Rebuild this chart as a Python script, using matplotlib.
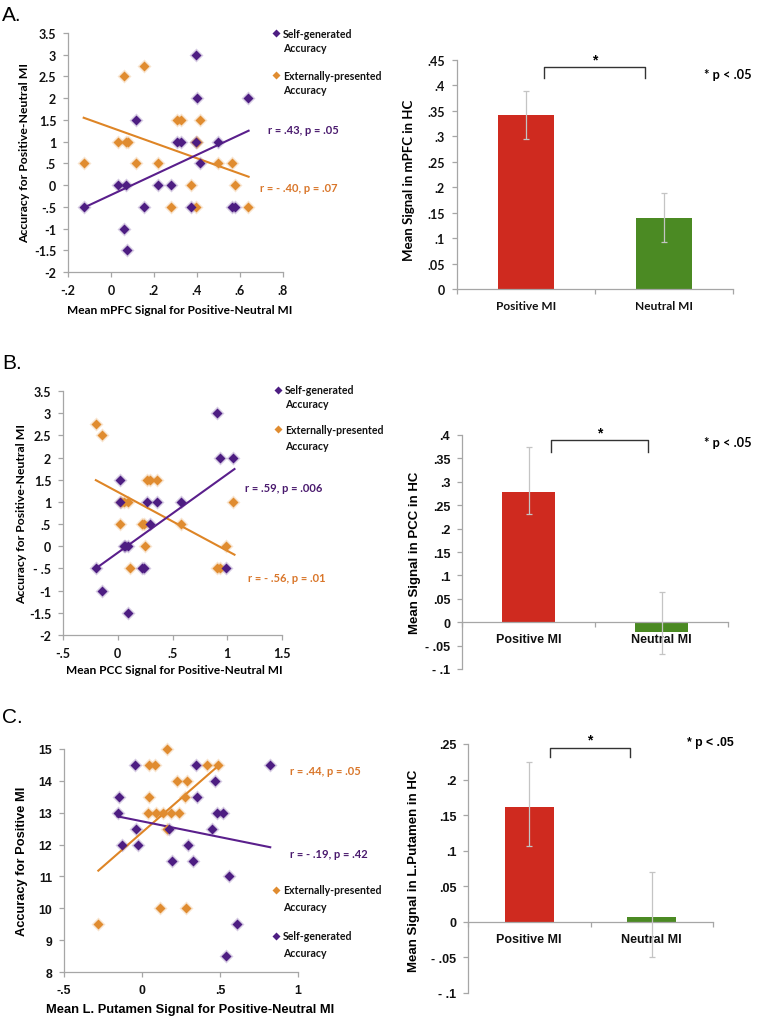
import matplotlib
matplotlib.use("Agg")
import matplotlib.pyplot as plt
from matplotlib.lines import Line2D
import numpy as np

# ---------------- DATA ----------------
# Panel A scatter (mPFC)
A_self_x = [-0.127, 0.034, 0.07, 0.061, 0.075, 0.117, 0.152, 0.22, 0.277, 0.308, 0.325, 0.37, 0.394, 0.398, 0.394, 0.414, 0.497, 0.563, 0.578, 0.639]
A_self_y = [-0.5, 0, 0, -1, -1.5, 1.5, -0.5, 0, 0, 1, 1, -0.5, 3, 2, 1, 0.5, 1, -0.5, -0.5, 2]
A_ext_x = [-0.127, 0.061, 0.155, 0.034, 0.07, 0.077, 0.117, 0.22, 0.277, 0.308, 0.325, 0.37, 0.394, 0.40, 0.394, 0.414, 0.497, 0.563, 0.578, 0.639]
A_ext_y = [0.5, 2.5, 2.75, 1, 1, 1, 0.5, 0.5, -0.5, 1.5, 1.5, 0, 1, 1, -0.5, 1.5, 0.5, 0.5, 0, -0.5]
A_self_fit = (2.31, -0.227)   # slope, intercept
A_ext_fit = (-1.77, 1.325)
A_fit_range = (-0.127, 0.64)

# Panel B scatter (PCC)
B_self_x = [-0.20, -0.14, 0.024, 0.024, 0.055, 0.07, 0.095, 0.095, 0.217, 0.24, 0.296, 0.27, 0.36, 0.574, 0.91, 0.934, 1.057, 0.99]
B_self_y = [-0.5, -1, 1.5, 1, 0, 0, 0, -1.5, -0.5, -0.5, 0.5, 1, 1, 1, 3, 2, 2, -0.5]
B_ext_x = [-0.20, -0.14, 0.024, 0.03, 0.06, 0.095, 0.11, 0.217, 0.24, 0.247, 0.27, 0.29, 0.36, 0.574, 0.91, 0.934, 0.99, 1.057]
B_ext_y = [2.75, 2.5, 0.5, 1, 1, 1, -0.5, 0.5, 0.5, 0, 1.5, 1.5, 1.5, 0.5, -0.5, -0.5, 0, 1]
B_self_fit = (1.77, -0.146)
B_ext_fit = (-1.327, 1.225)
B_fit_range = (-0.2, 1.066)

# Panel C scatter (L. Putamen)
C_ext_x = [0.162, 0.044, 0.085, 0.415, 0.49, 0.226, 0.287, 0.047, 0.276, 0.036, 0.089, 0.136, 0.184, 0.237, 0.162, -0.28, 0.115, 0.28]
C_ext_y = [15, 14.5, 14.5, 14.5, 14.5, 14, 14, 13.5, 13.5, 13, 13, 13, 13, 13, 12.5, 9.5, 10, 10]
C_self_x = [-0.046, 0.344, 0.822, 0.469, -0.148, 0.351, -0.157, 0.479, 0.518, -0.039, 0.175, 0.447, -0.127, -0.024, 0.297, 0.19, 0.325, 0.555, 0.612, 0.537]
C_self_y = [14.5, 14.5, 14.5, 14, 13.5, 13.5, 13, 13, 13, 12.5, 12.5, 12.5, 12, 12, 12, 11.5, 11.5, 11, 9.5, 8.5]
C_self_fit = (-0.99, 12.73)
C_self_range = (-0.157, 0.822)
C_ext_fit = (4.28, 12.38)
C_ext_range = (-0.28, 0.48)

# Bar charts
bar_categories = ["Positive MI", "Neutral MI"]
A_bar = [0.342, 0.139]
A_err_lo = [0.048, 0.047]
A_err_hi = [0.047, 0.050]
B_bar = [0.279, -0.021]
B_err_lo = [0.047, 0.048]
B_err_hi = [0.095, 0.085]
C_bar = [0.162, 0.007]
C_err_lo = [0.055, 0.056]
C_err_hi = [0.062, 0.063]

# ---------------- STYLE ----------------
PURPLE = "#4d1d82"
PURPLE_LINE = "#5a1f8c"
PURPLE_TXT = "#4a1a6e"
ORANGE = "#e08c30"
ORANGE_LINE = "#de8526"
ORANGE_TXT = "#d9762a"
RED = "#cf2a1f"
GREEN = "#4b8a23"
AXGRAY = "#a6a6a6"
CAL = ["Lato", "DejaVu Sans"]
ARI = ["Liberation Sans", "DejaVu Sans"]

W, H = 759, 1020
fig = plt.figure(figsize=(W / 100, H / 100), dpi=100)


def px_axes(x0, y0, x1, y1):
    return fig.add_axes([x0 / W, 1 - y1 / H, (x1 - x0) / W, (y1 - y0) / H])


def fx(x):
    return x / W


def fy(y):
    return 1 - y / H


def style_axes(ax, fam, tsize):
    for s in ["top", "right"]:
        ax.spines[s].set_visible(False)
    for s in ["left", "bottom"]:
        ax.spines[s].set_color(AXGRAY)
        ax.spines[s].set_linewidth(0.9)
    ax.tick_params(direction="out", length=3.5, width=0.9, color=AXGRAY,
                   labelsize=tsize, pad=5)
    for lab in ax.get_xticklabels() + ax.get_yticklabels():
        lab.set_family(fam)
        lab.set_fontweight("bold")
        lab.set_color("#111111")


def fmt(v):
    if abs(v) < 1e-9:
        return "0"
    s = ("%g" % v)
    s = s.replace("0.", ".")
    return s


def scatter(ax, xs, ys, color):
    ax.plot(xs, ys, "D", ms=7.0, color=color, alpha=0.22, mec="none", zorder=2, clip_on=False)
    ax.plot(xs, ys, "D", ms=5.0, color=color, mec="none", zorder=3, clip_on=False)


def fitline(ax, fit, rng, color):
    xx = np.array(rng)
    ax.plot(xx, fit[0] * xx + fit[1], color=color, lw=1.5, zorder=2.5)


def legend_entry(xm, ym, color, lines, fam, size, dy):
    fig.add_artist(Line2D([fx(xm)], [fy(ym)], marker="D", ms=4.2, color=color,
                          mec="none", transform=fig.transFigure))
    for i, t in enumerate(lines):
        fig.text(fx(xm + 7), fy(ym + i * dy), t, family=fam, fontweight="bold",
                 fontsize=size, va="center", ha="left", color="#111111")


LEG = 7.6

# ---------------- SCATTER A ----------------
axA = px_axes(68, 34, 283, 273)
scatter(axA, A_ext_x, A_ext_y, ORANGE)
scatter(axA, A_self_x, A_self_y, PURPLE)
fitline(axA, A_ext_fit, A_fit_range, ORANGE_LINE)
fitline(axA, A_self_fit, A_fit_range, PURPLE_LINE)
axA.set_xlim(-0.2, 0.8)
axA.set_ylim(-2, 3.5)
xt = np.arange(-0.2, 0.81, 0.2)
axA.set_xticks(xt, [fmt(round(v, 2)) for v in xt])
yt = np.arange(-2, 3.51, 0.5)
axA.set_yticks(yt, [fmt(v) for v in yt])
style_axes(axA, CAL, 9)
axA.set_xlabel("Mean mPFC Signal for Positive-Neutral MI", family=CAL, fontweight="bold", fontsize=8.6)
axA.set_ylabel("Accuracy for Positive-Neutral MI", family=CAL, fontweight="bold", fontsize=8.8)
axA.xaxis.set_label_coords(0.52, -0.155)
axA.xaxis.label.set_va("center")
axA.yaxis.set_label_coords(-0.2, 0.5)
axA.yaxis.label.set_va("center")
legend_entry(276, 34, PURPLE, ["Self-generated", "Accuracy"], CAL, LEG, 14)
legend_entry(276, 76, ORANGE, ["Externally-presented", "Accuracy"], CAL, LEG, 14)
fig.text(fx(268), fy(130), "r = .43, p = .05", family=CAL, fontweight="bold", fontsize=8,
         color=PURPLE_TXT, va="center")
fig.text(fx(260), fy(188), "r = - .40, p = .07", family=CAL, fontweight="bold", fontsize=8,
         color=ORANGE_TXT, va="center")

# ---------------- SCATTER B ----------------
axB = px_axes(63, 392, 282, 636)
scatter(axB, B_ext_x, B_ext_y, ORANGE)
scatter(axB, B_self_x, B_self_y, PURPLE)
fitline(axB, B_ext_fit, B_fit_range, ORANGE_LINE)
fitline(axB, B_self_fit, B_fit_range, PURPLE_LINE)
axB.set_xlim(-0.5, 1.5)
axB.set_ylim(-2, 3.5)
xt = np.arange(-0.5, 1.51, 0.5)
axB.set_xticks(xt, [fmt(v) for v in xt])
axB.set_yticks(yt, [fmt(v).replace("-.", "- .") for v in yt])
style_axes(axB, CAL, 9)
axB.set_xlabel("Mean PCC Signal for Positive-Neutral MI", family=CAL, fontweight="bold", fontsize=8.6)
axB.set_ylabel("Accuracy for Positive-Neutral MI", family=CAL, fontweight="bold", fontsize=8.8)
axB.xaxis.set_label_coords(0.51, -0.14)
axB.xaxis.label.set_va("center")
axB.yaxis.set_label_coords(-0.187, 0.5)
axB.yaxis.label.set_va("center")
legend_entry(278, 391, PURPLE, ["Self-generated", "Accuracy"], CAL, LEG, 14)
legend_entry(278, 430, ORANGE, ["Externally-presented", "Accuracy"], CAL, LEG, 16)
fig.text(fx(245), fy(488), "r = .59, p = .006", family=CAL, fontweight="bold", fontsize=8,
         color=PURPLE_TXT, va="center")
fig.text(fx(248), fy(578), "r = - .56, p = .01", family=CAL, fontweight="bold", fontsize=8,
         color=ORANGE_TXT, va="center")

# ---------------- SCATTER C ----------------
axC = px_axes(64, 750, 298, 973)
scatter(axC, C_ext_x, C_ext_y, ORANGE)
scatter(axC, C_self_x, C_self_y, PURPLE)
fitline(axC, C_ext_fit, C_ext_range, ORANGE_LINE)
fitline(axC, C_self_fit, C_self_range, PURPLE_LINE)
axC.set_xlim(-0.5, 1.0)
axC.set_ylim(8, 15)
xt = np.arange(-0.5, 1.01, 0.5)
axC.set_xticks(xt, [fmt(v) for v in xt])
axC.set_yticks(np.arange(8, 15.1, 1), [str(int(v)) for v in np.arange(8, 15.1, 1)])
style_axes(axC, ARI, 8.8)
axC.set_xlabel("Mean L. Putamen Signal for Positive-Neutral MI", family=ARI, fontweight="bold", fontsize=9.3)
axC.set_ylabel("Accuracy for Positive MI", family=ARI, fontweight="bold", fontsize=9.3)
axC.xaxis.set_label_coords(0.54, -0.166)
axC.xaxis.label.set_va("center")
axC.yaxis.set_label_coords(-0.18, 0.5)
axC.yaxis.label.set_va("center")
legend_entry(276, 891, ORANGE, ["Externally-presented", "Accuracy"], CAL, LEG, 17)
legend_entry(276, 937, PURPLE, ["Self-generated", "Accuracy"], CAL, LEG, 17)
fig.text(fx(290), fy(772), "r = .44, p = .05", family=CAL, fontweight="bold", fontsize=8,
         color=ORANGE_TXT, va="center")
fig.text(fx(290), fy(855), "r = - .19, p = .42", family=CAL, fontweight="bold", fontsize=8,
         color=PURPLE_TXT, va="center")


# ---------------- BAR CHARTS ----------------
def bar_panel(box, vals, lo, hi, ylim, ystep, fam, tsize, xsize, ylabel, lab_xy, bracket, star_y, negfmt):
    ax = px_axes(*box)
    xs = np.arange(len(vals))
    ax.bar(xs, vals, width=0.4, color=[RED, GREEN], zorder=2)
    ax.errorbar(xs, vals, yerr=[lo, hi], fmt="none", ecolor="#c4c4c4", elinewidth=0.9,
                capsize=2.5, capthick=0.9, zorder=3)
    ax.set_xlim(-0.5, 1.5)
    ax.set_ylim(*ylim)
    ax.spines["bottom"].set_position(("data", 0))
    yt = np.arange(ylim[0], ylim[1] + 1e-9, ystep)
    labs = []
    for v in yt:
        s = fmt(round(v, 3))
        if negfmt and s.startswith("-"):
            s = "- " + s[1:]
        labs.append(s)
    ax.set_yticks(yt, labs)
    ax.set_xticks(xs, bar_categories)
    ax.set_xticks([-0.5, 0.5, 1.5], minor=True)
    style_axes(ax, fam, tsize)
    ax.tick_params(axis="x", which="major", length=0, pad=8, labelsize=xsize)
    ax.tick_params(axis="x", which="minor", direction="out", length=3.5, width=0.9, color=AXGRAY)
    ax.set_ylabel(ylabel, family=fam, fontweight="bold", fontsize=9.5)
    ax.yaxis.set_label_coords(*lab_xy)
    ax.yaxis.label.set_va("center")
    x1, x2, yb, yt_ = bracket
    ax.plot([x1, x1, x2, x2], [yb, yt_, yt_, yb], color="#333333", lw=1.0, clip_on=False, zorder=4)
    ax.text((x1 + x2) / 2, star_y, "*", ha="center", va="center", fontsize=10,
            fontweight="bold", family=ARI, clip_on=False)
    return ax


bA = bar_panel((457, 61, 733, 290), A_bar, A_err_lo, A_err_hi, (0, 0.45), 0.05, CAL, 9, 8.6,
               "Mean Signal in mPFC in HC", (-0.174, 0.48), (0.13, 0.86, 0.415, 0.436), 0.452, False)
fig.text(fx(752), fy(75), "* p < .05", family=CAL, fontweight="bold", fontsize=9.2,
         va="center", ha="right")

bB = bar_panel((462, 436, 728, 670), B_bar, B_err_lo, B_err_hi, (-0.1, 0.4), 0.05, ARI, 9, 9,
               "Mean Signal in PCC in HC", (-0.177, 0.5), (0.17, 0.898, 0.364, 0.389), 0.405, True)
fig.text(fx(752), fy(443), "* p < .05", family=CAL, fontweight="bold", fontsize=9.2,
         va="center", ha="right")

bC = bar_panel((468, 745, 713, 994), C_bar, C_err_lo, C_err_hi, (-0.1, 0.25), 0.05, ARI, 9, 9,
               "Mean Signal in L.Putamen in HC", (-0.22, 0.494), (0.17, 0.82, 0.232, 0.244), 0.257, True)
fig.text(fx(734), fy(743), "* p < .05", family=ARI, fontweight="bold", fontsize=8.8,
         va="center", ha="right")

# ---------------- PANEL LETTERS ----------------
for letter, yb in [("A.", 21), ("B.", 369), ("C.", 723)]:
    fig.text(fx(2), fy(yb), letter, family=ARI, fontsize=15, va="baseline", ha="left")

fig.savefig("out.png", dpi=100)
